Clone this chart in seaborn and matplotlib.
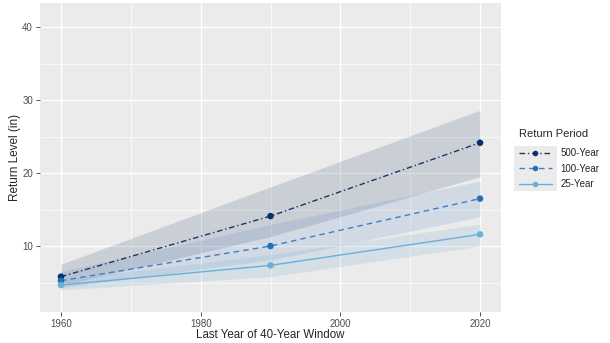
import pandas as pd
import numpy as np
import matplotlib
matplotlib.use("Agg")
import matplotlib.pyplot as plt
import seaborn as sns
from matplotlib.lines import Line2D
from matplotlib.patches import Rectangle

# dados
years = [1960, 1990, 2020]
periods = ["500-Year", "100-Year", "25-Year"]
rl_500 = [5.8, 14.1, 24.15]
rl_100 = [5.25, 10.0, 16.5]
rl_25 = [4.65, 7.35, 11.6]
lo_500 = [4.6, 11.3, 19.5]
hi_500 = [7.5, 18.1, 28.6]
lo_100 = [4.3, 8.1, 14.0]
hi_100 = [6.5, 12.95, 18.9]
lo_25 = [4.0, 5.8, 10.0]
hi_25 = [5.4, 8.8, 13.0]

sns.set_style("darkgrid", {"axes.facecolor": "#EBEBEB", "grid.color": "white"})
plt.rcParams['font.family'] = ['Liberation Sans', 'DejaVu Sans']

df = pd.DataFrame({
    "year": years * 3,
    "rl": rl_500 + rl_100 + rl_25,
    "lo": lo_500 + lo_100 + lo_25,
    "hi": hi_500 + hi_100 + hi_25,
    "period": [p for p in periods for _ in years],
})

line_cols = {"500-Year": "#1B3566", "100-Year": "#3C80C6", "25-Year": "#6AAFDA"}
pt_cols = {"500-Year": "#08306B", "100-Year": "#2171B5", "25-Year": "#6BAED6"}
fill_cols = {"500-Year": "#2A3F6A", "100-Year": "#6A92C8", "25-Year": "#8CB8D6"}
fill_alpha = {"500-Year": 0.17, "100-Year": 0.2, "25-Year": 0.25}
dashes = {"500-Year": (4, 2, 1, 2), "100-Year": (4, 3), "25-Year": ""}

fig = plt.figure(figsize=(6.1, 3.43), dpi=100)
ax = fig.add_axes([40/610, 31/343, 461/610, 309/343])

# faixas de confianca
for p in periods:
    sub = df[df.period == p]
    ax.fill_between(sub.year, sub.lo, sub.hi, color=fill_cols[p], alpha=fill_alpha[p], lw=0)

sns.lineplot(data=df, x="year", y="rl", hue="period", style="period",
             palette=line_cols, dashes=dashes, lw=1.0, ax=ax, legend=False)
sns.scatterplot(data=df, x="year", y="rl", hue="period", palette=pt_cols,
                s=22, linewidth=0, ax=ax, legend=False, zorder=5)

ax.set_xlim(1957, 2023)
ax.set_ylim(0.96, 43.3)
ax.set_xticks([1960, 1980, 2000, 2020])
ax.set_yticks([10, 20, 30, 40])
ax.set_xticks([1970, 1990, 2010], minor=True)
ax.set_yticks([5, 15, 25, 35], minor=True)
ax.grid(which="major", color="white", lw=1.0)
ax.grid(which="minor", color="white", lw=0.5)
for s in ax.spines.values():
    s.set_visible(False)
ax.tick_params(axis="both", which="major", labelsize=7, labelcolor="#4D4D4D",
               length=3, width=0.6, color="#333333", pad=2, left=True, bottom=True)
ax.tick_params(which="minor", length=0)
ax.set_xlabel("Last Year of 40-Year Window", fontsize=8.3, labelpad=0)
ax.set_ylabel("Return Level (in)", fontsize=8.5, labelpad=1)

# legenda manual
handles = [Line2D([0], [0], color=line_cols[p], lw=1.0, dashes=dashes[p] if dashes[p] else (None, None),
                  marker="o", markersize=4, markerfacecolor=pt_cols[p], markeredgewidth=0)
           for p in periods]
leg = fig.legend(handles, periods, title="Return Period", loc="upper left",
                 bbox_to_anchor=(510/610, 1 - 120/343), frameon=False, fontsize=7,
                 title_fontsize=8, handlelength=3.4, labelspacing=0.55, handletextpad=0.9)
leg._legend_box.align = "left"
leg._legend_box.sep = 7

# fundo cinza das chaves da legenda
fig.canvas.draw()
r = fig.canvas.get_renderer()
boxes = [h.get_window_extent(r) for h in leg.legend_handles]
x0 = min(b.x0 for b in boxes) - 2
x1 = max(b.x1 for b in boxes) + 2
texts = [t.get_window_extent(r) for t in leg.get_texts()]
y0 = min(t.y0 for t in texts) - 2
y1 = max(t.y1 for t in texts) + 2
fig.patches.append(Rectangle((x0, y0), x1 - x0, y1 - y0, transform=None,
                             facecolor="#EBEBEB", edgecolor="none", zorder=0))

fig.savefig("out.png", dpi=100)
